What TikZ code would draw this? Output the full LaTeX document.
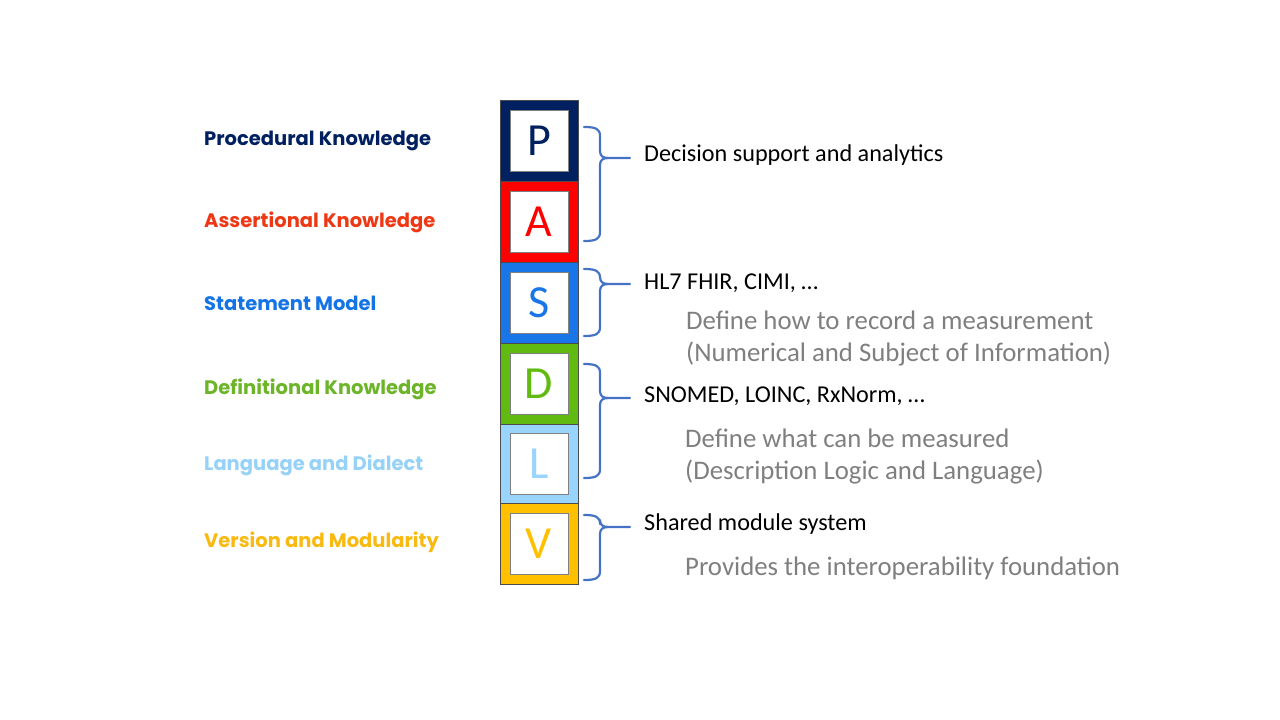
\documentclass[tikz,border=0pt]{standalone}
\usepackage{fontspec}
\setmainfont{Carlito}
\newfontfamily\labfont{Poppins}
\definecolor{cNavy}{RGB}{0,32,96}
\definecolor{cRed}{RGB}{255,0,0}
\definecolor{cBlue}{RGB}{24,118,232}
\definecolor{cGreen}{RGB}{96,186,16}
\definecolor{cSky}{RGB}{152,212,252}
\definecolor{cGold}{RGB}{255,192,0}
\definecolor{lNavy}{RGB}{0,32,96}
\definecolor{lRed}{RGB}{238,56,20}
\definecolor{lBlue}{RGB}{20,116,230}
\definecolor{lGreen}{RGB}{108,180,40}
\definecolor{lSky}{RGB}{150,210,248}
\definecolor{lGold}{RGB}{248,186,16}
\definecolor{braceBlue}{RGB}{68,114,196}
\definecolor{noteGray}{RGB}{127,127,127}
\begin{document}
\begin{tikzpicture}[x=1pt,y=-1pt,
  layer label/.style={anchor=west,inner sep=0pt,font=\labfont\bfseries\fontsize{19.5}{22}\selectfont},
  letterbox/.style={draw=gray,line width=0.8pt,fill=white,minimum width=58pt,minimum height=61pt,inner sep=0pt,font=\fontsize{46}{50}\selectfont},
  brace/.style={draw=braceBlue,line width=2.2pt,line cap=round,line join=round},
  topic/.style={anchor=west,inner sep=0pt,font=\fontsize{24.2}{28}\selectfont,text=black},
  note/.style={anchor=west,inner sep=0pt,font=\fontsize{26.8}{32}\selectfont,text=noteGray,align=left}]
\useasboundingbox (0,0) rectangle (1280,720);

% stacked layer tiles
\foreach \n/\t/\b/\c/\l in {p/100/181/cNavy/P, a/181/262/cRed/A, s/262/343/cBlue/S,
                             d/343/424/cGreen/D, l/424/503/cSky/L, v/503/584/cGold/V}{
  \fill[\c] (500,\t) rectangle (578,\b);
  \draw[gray!60!black,line width=0.6pt] (500,\t) rectangle (578,\b);
  \node[letterbox,text=\c] (\n) at (539,{(\t+\b)/2}) {\l};
}

% layer names
\node[layer label,text=lNavy] (tp) at (204,141) {Procedural Knowledge};
\node[layer label,text=lRed]  (ta) at (204,222) {Assertional Knowledge};
\node[layer label,text=lBlue] (ts) at (204,303) {Statement Model};
\node[layer label,text=lGreen](td) at (204,389) {Definitional Knowledge};
\node[layer label,text=lSky]  (tl) at (204,465) {Language and Dialect};
\node[layer label,text=lGold] (tv) at (204,542) {Version and Modularity};

% right-hand descriptions
\node[topic] (r1) at (644,155) {Decision support and analytics};
\node[topic] (r2) at (644,283) {HL7 FHIR, CIMI, …};
\node[note]  (n2) at (686,338) {Define how to record a measurement\\(Numerical and Subject of Information)};
\node[topic] (r3) at (644,396) {SNOMED, LOINC, RxNorm, …};
\node[note]  (n3) at (685,456) {Define what can be measured\\(Description Logic and Language)};
\node[topic] (r4) at (644,524) {Shared module system};
\node[note]  (n4) at (685,568) {Provides the interoperability foundation};

% right braces: top, tip, bottom
\newcommand\layerbrace[3]{%
  \draw[brace] (584,#1) .. controls (596,#1) and (600,#1+2) .. (600,#1+9)
     -- (600,#2-7) .. controls (600,#2-2) and (603,#2) .. (608,#2) -- (630,#2);
  \draw[brace] (608,#2) .. controls (603,#2) and (600,#2+2) .. (600,#2+7)
     -- (600,#3-9) .. controls (600,#3-2) and (596,#3) .. (584,#3);
}
\layerbrace{127}{158}{241}
\layerbrace{269}{284}{336}
\layerbrace{364}{398}{478}
\layerbrace{515}{527}{580}
\end{tikzpicture}
\end{document}
